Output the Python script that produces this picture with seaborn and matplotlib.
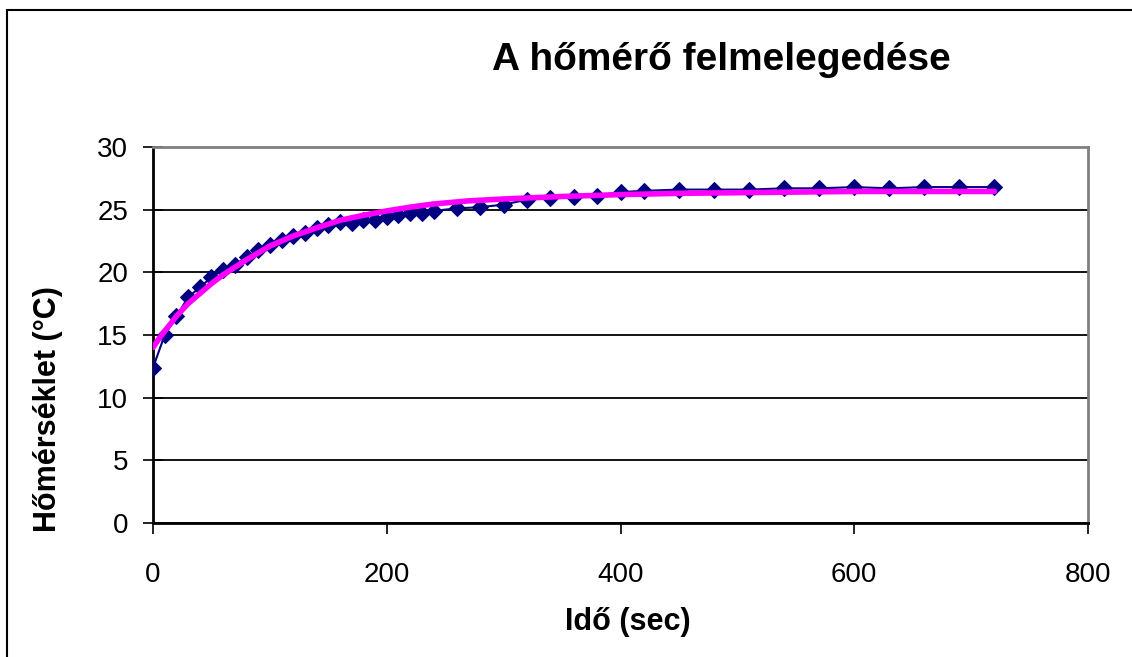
import matplotlib
matplotlib.use('Agg')
import matplotlib.pyplot as plt
import seaborn as sns
import pandas as pd
from matplotlib.patches import Rectangle

# measured temperatures
ido = [0, 10, 20, 30, 40, 50, 60, 70, 80, 90, 100, 110, 120, 130, 140, 150,
       160, 170, 180, 190, 200, 210, 220, 230, 240,
       260, 280, 300, 320, 340, 360, 380, 400, 420,
       450, 480, 510, 540, 570, 600, 630, 660, 690, 720]
homerseklet = [12.4, 15.0, 16.5, 18.0, 18.8, 19.6, 20.2, 20.6, 21.2, 21.8,
               22.2, 22.6, 22.9, 23.1, 23.5, 23.8, 24.0, 23.9, 24.2, 24.2,
               24.4, 24.6, 24.7, 24.7, 24.9,
               25.1, 25.2, 25.4, 25.8, 25.9, 26.0, 26.1, 26.4, 26.5,
               26.6, 26.6, 26.6, 26.7, 26.7, 26.8, 26.7, 26.8, 26.8, 26.8]

# fitted curve (magenta)
ido_fit = [0, 5, 10, 20, 30, 40, 50, 60, 80, 100, 120, 140, 160, 180, 200,
           220, 240, 270, 300, 350, 400, 450, 500, 550, 600, 650, 720]
homerseklet_fit = [14.0, 14.7, 15.3, 16.5, 17.5, 18.3, 19.1, 19.8, 21.0,
                   22.1, 22.9, 23.55, 24.15, 24.55, 24.9, 25.2, 25.45, 25.7,
                   25.85, 26.05, 26.2, 26.3, 26.35, 26.4, 26.45, 26.45, 26.45]

meres = pd.DataFrame({'ido': ido, 'T': homerseklet})
illesztes = pd.DataFrame({'ido': ido_fit, 'T': homerseklet_fit})

sns.set_style('white')
plt.rcParams['font.family'] = ['Liberation Sans', 'DejaVu Sans']
plt.rcParams['text.color'] = 'black'
plt.rcParams['axes.labelcolor'] = 'black'
plt.rcParams['xtick.color'] = 'black'
plt.rcParams['ytick.color'] = 'black'

fig = plt.figure(figsize=(11.32, 6.57), dpi=100)
ax = fig.add_axes([0.1352, 0.204, 0.8259, 0.5723])

sns.lineplot(data=meres, x='ido', y='T', ax=ax, color='#000080',
             linewidth=1.5, marker='D', markersize=8, markeredgecolor='#000080',
             zorder=3)
sns.lineplot(data=illesztes, x='ido', y='T', ax=ax, color='#FF00FF',
             linewidth=4, zorder=4)

ax.set_xlim(0, 800)
ax.set_ylim(0, 30)
ax.set_xticks([0, 200, 400, 600, 800])
ax.set_yticks([0, 5, 10, 15, 20, 25, 30])
ax.yaxis.grid(True, color='black', linewidth=1.3)
ax.set_axisbelow(True)

for side in ['left', 'bottom']:
    ax.spines[side].set_color('black')
    ax.spines[side].set_linewidth(2)
for side in ['top', 'right']:
    ax.spines[side].set_color('#808080')
    ax.spines[side].set_linewidth(2)

ax.tick_params(axis='x', direction='out', length=8, width=1.2,
               labelsize=20, pad=20, bottom=True)
ax.tick_params(axis='y', direction='inout', length=14, width=1.2,
               labelsize=20, pad=11, left=True)

ax.set_xlabel('Idő (sec)', fontsize=22, fontweight='bold')
ax.set_ylabel('Hőmérséklet (°C)', fontsize=22, fontweight='bold')
ax.xaxis.set_label_coords(0.508, -0.223)
ax.yaxis.set_label_coords(-0.096, 0.303)

fig.text(0.637, 0.909, 'A hőmérő felmelegedése', fontsize=28,
         fontweight='bold', ha='center', va='center')

# chart area frame
fig.patches.append(Rectangle((7 / 1132, -0.1), 1.2, 1 - 10 / 657 + 0.1,
                             transform=fig.transFigure, fill=False,
                             edgecolor='black', linewidth=1.5))

fig.savefig('out.png', dpi=100)
